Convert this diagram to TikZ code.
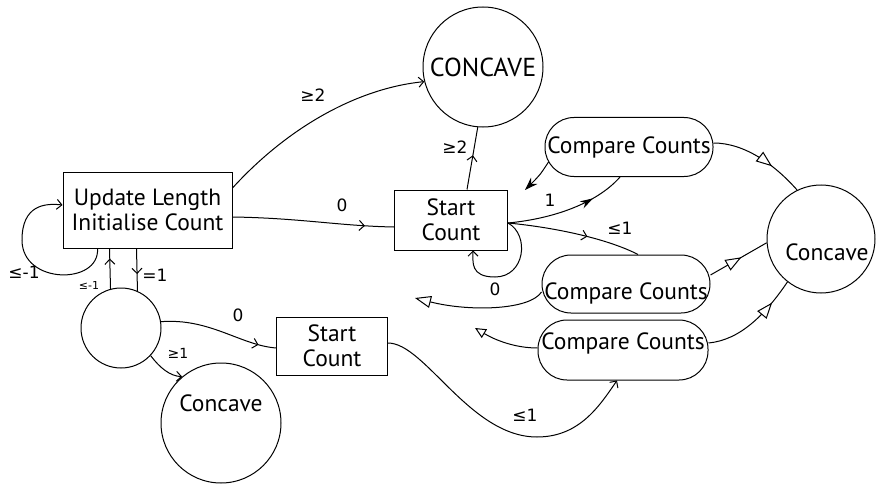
\documentclass[tikz,border=0pt]{standalone}
\usepackage{fontspec}
\setmainfont{PT Sans}
\newfontfamily\lblfont{DejaVu Sans}
\usetikzlibrary{arrows.meta,decorations.markings}
\newcommand\dsz{\fontsize{23.5}{25}\selectfont}
\tikzset{
  box/.style={draw,rectangle,font=\dsz,align=center,inner sep=0pt},
  circ/.style={draw,circle,inner sep=0pt,font=\dsz},
  pill/.style={draw,rectangle,rounded corners=29pt,inner sep=0pt,font=\dsz},
  txt/.style={font=\dsz,inner sep=0pt},
  lbl/.style={font=\lblfont\fontsize{17}{17}\selectfont,inner sep=0pt},
  vtip/.tip={Straight Barb[length=5pt,width=10pt]},
  vend/.style={-{vtip}},
  vmid/.style={postaction={decorate,decoration={markings,mark=at position #1 with {\arrow{vtip}}}}},
  fmid/.style={postaction={decorate,decoration={markings,mark=at position #1 with {\arrow{Stealth[length=13pt,width=8pt]}}}}},
  fend/.style={-{Stealth[length=13pt,width=9pt]}},
  tmid/.style={postaction={decorate,decoration={markings,mark=at position #1 with {\arrow{Triangle[fill=white,length=16pt,width=12pt]}}}}},
  tend/.style={-{Triangle[fill=white,length=16pt,width=12pt]}},
  tendsmall/.style={-{Triangle[fill=white,length=11pt,width=10pt]}},
}
\begin{document}
\begin{tikzpicture}[x=1pt,y=-1pt,line width=1pt]
\useasboundingbox (0,0) rectangle (879,487);

% nodes
\node[box,minimum width=169pt,minimum height=76pt] (upd) at (147.5,210) {Update Length\\Initialise Count};
\node[circ,minimum size=120pt,font=\fontsize{26}{26}\selectfont] (cc) at (483,67) {CONCAVE};
\node[box,minimum width=113pt,minimum height=60pt] (sc1) at (451,220) {Start\\Count};
\node[pill,minimum width=168pt,minimum height=59pt] (cmp1) at (629,147) {Compare Counts};
\node[pill,minimum width=168pt,minimum height=58pt,label={[txt,yshift=-9pt]center:Compare Counts}] (cmp2) at (626,284) {};
\node[pill,minimum width=170pt,minimum height=60pt,label={[txt,yshift=7pt]center:Compare Counts}] (cmp3) at (623,350) {};
\node[circ,minimum size=108pt,label={[txt,xshift=6pt,yshift=-13pt]center:Concave}] (cv) at (821,239) {};
\node[circ,minimum size=80pt] (sm) at (121,328) {};
\node[circ,minimum size=120pt,label={[txt,yshift=20pt]center:Concave}] (cv2) at (221,423) {};
\node[box,minimum width=111pt,minimum height=58pt] (sc2) at (332,346) {Start\\Count};

\coordinate (d1) at (525,190);
\coordinate (d2) at (415,298);
\coordinate (d3) at (475,328);

% connectors
\draw[vend] ([yshift=22pt]upd.east) .. controls (290,125) and (360,88) .. (cc.194);
\draw[vmid=0.82] ([yshift=-7pt]upd.east) .. controls (300,218) and (340,226) .. ([yshift=-7pt]sc1.west);
\draw[vend] ([xshift=35pt]upd.south west) .. controls (100,285) and (22,285) .. (22,240) .. controls (22,205) and (45,203) .. ([yshift=5pt]upd.west);
\draw[vmid=0.75] (sm.105) -- ([xshift=47pt]upd.south west);
\draw[vmid=0.6] ([xshift=74pt]upd.south west) -- (sm.66);
\draw[vmid=0.85] (sm.9) .. controls (210,318) and (240,345) .. ([yshift=-2pt]sc2.west);
\draw[vend] (sm.-43) .. controls (160,368) and (170,376) .. (cv2.130);
\draw[vend] ([yshift=3pt]sc2.east) .. controls (425,343) and (470,437) .. (537,437) .. controls (580,437) and (600,405) .. ([xshift=-6pt]cmp3.south);
\draw[vmid=0.55] ([xshift=16pt]sc1.north) -- (cc.265);
\draw[fend] ([xshift=4pt,yshift=15pt]cmp1.south west) .. controls (540,175) .. (d1);
\draw[fmid=0.72] ([yshift=-3pt]sc1.east) .. controls (560,218) and (600,200) .. ([xshift=-9pt]cmp1.south);
\draw[vmid=0.6] ([yshift=-3pt]sc1.east) .. controls (560,228) and (610,240) .. ([xshift=12pt]cmp2.north);
\draw[vend] ([yshift=-3pt]sc1.east) .. controls (530,235) and (525,277) .. (495,277) .. controls (470,277) and (473,262) .. ([xshift=22pt]sc1.south);
\draw[tend] ([yshift=-8pt]cmp2.west) .. controls (530,310) and (470,312) .. (d2);
\draw[tendsmall] ([yshift=2pt]cmp3.west) .. controls (515,348) and (495,340) .. (d3);
\draw[tmid=0.65] ([yshift=4pt]cmp1.east) .. controls (745,143) and (775,165) .. (cv.116);
\draw[tmid=0.55] ([yshift=9pt]cmp2.east) -- (cv.184);
\draw[tmid=0.75] ([yshift=7pt]cmp3.east) .. controls (740,340) and (765,315) .. (cv.232);

% labels
\node[lbl] (l1) at (313,95) {≥2};
\node[lbl] (l2) at (342,205) {0};
\node[lbl] (l3) at (24,272) {≤-1};
\node[lbl,font=\lblfont\fontsize{11}{11}\selectfont] (l4) at (89,285) {≤-1};
\node[lbl] (l5) at (155,275) {=1};
\node[lbl] (l6) at (238,315) {0};
\node[lbl,font=\lblfont\fontsize{14}{14}\selectfont] (l7) at (178,353) {≥1};
\node[lbl] (l8) at (525,415) {≤1};
\node[lbl] (l9) at (455,147) {≥2};
\node[lbl] (l10) at (550,200) {1};
\node[lbl] (l11) at (620,228) {≤1};
\node[lbl] (l12) at (495,289) {0};
\end{tikzpicture}
\end{document}
